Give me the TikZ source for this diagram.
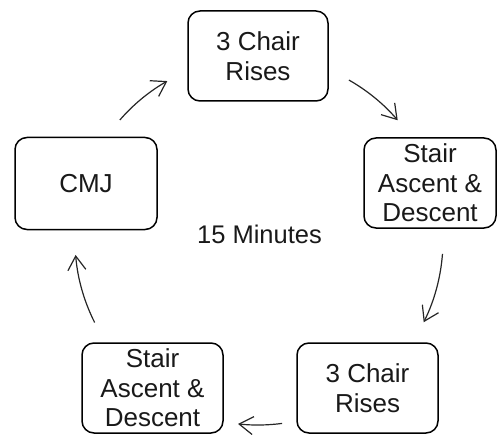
\documentclass[tikz,border=0pt]{standalone}
\usepackage{fontspec}
\setmainfont{Liberation Sans}
\usetikzlibrary{arrows.meta,calc}
\tikzset{
  stepbox/.style={draw=black, line width=1.5pt, rounded corners=12pt, minimum width=140pt, minimum height=90pt, inner sep=0pt, align=center, font=\fontsize{26}{29.5}\selectfont, text=black!90},
  arr/.style={draw=black!85, line width=1.2pt, -{Straight Barb[length=14pt,width=18pt,line width=1.2pt]}}
}
\begin{document}
\begin{tikzpicture}[x=1pt,y=1pt]
\useasboundingbox (0,0) rectangle (497,434);
\node[stepbox] (top) at (258,378) {3 Chair\\Rises};
\node[stepbox, minimum width=132pt] (right) at (430,251) {Stair\\Ascent \&\\Descent};
\node[stepbox, minimum width=141pt] (br) at (367.5,46) {3 Chair\\Rises};
\node[stepbox, minimum width=141pt] (bl) at (152.5,46) {Stair\\Ascent \&\\Descent};
\node[stepbox, minimum width=142pt, minimum height=92pt] (cmj) at (86,250.5) {CMJ};
\node[anchor=base, font=\fontsize{25.5}{28.5}\selectfont, text=black!90] (mid) at (259.5,191) {15 Minutes};
\coordinate (c) at (258,194);
\coordinate (a1) at ($(c)+(139:183)$);
\coordinate (a2) at ($(c)+(60.4:184)$);
\coordinate (a3) at ($(c)+(-4.3:185)$);
\coordinate (a4) at ($(c)+(-82.5:185)$);
\coordinate (a5) at ($(c)+(206.8:183)$);
\draw[arr] (a1) arc[start angle=139, end angle=119.7, radius=183];
\draw[arr] (a2) arc[start angle=60.4, end angle=40.6, radius=184];
\draw[arr] (a3) arc[start angle=-4.3, end angle=-26.4, radius=185];
\draw[arr] (a4) arc[start angle=-82.5, end angle=-96.2, radius=185];
\draw[arr] (a5) arc[start angle=206.8, end angle=184.7, radius=183];
\end{tikzpicture}
\end{document}
